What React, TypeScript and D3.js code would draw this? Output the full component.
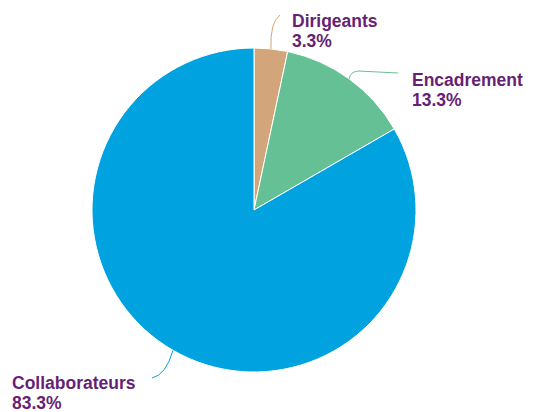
import React from "react";
import * as d3 from "d3";

const categories = ["Dirigeants", "Encadrement", "Collaborateurs"];
const values = [1, 4, 25];
const percentLabels = ["3.3%", "13.3%", "83.3%"];
const colors = ["#d3a57b", "#66c096", "#00a3df"];

const W = 534, H = 412;
const cx = 254, cy = 210, R = 162;

// label layout: anchor offsets for text and connector end
const labelLayout = [
  { tx: 292, ty: 27, end: [280, 15], ctrl: [270, 22], tail: null },
  { tx: 412, ty: 86, end: [358, 71], ctrl: [350, 72], tail: [398, 73] },
  { tx: 12, ty: 389, end: [152, 378], ctrl: [166, 375], tail: null },
];

export default function App() {
  const pie = d3.pie<number>().sort(null).value((d) => d);
  const arcs = pie(values);
  const arc = d3.arc<d3.PieArcDatum<number>>().innerRadius(0).outerRadius(R);
  const font = "'Liberation Sans', Arial, sans-serif";
  return (
    <svg width={W} height={H} style={{ position: "absolute", left: 0, top: 0 }}>
      <g transform={`translate(${cx},${cy})`}>
        {arcs.map((a, i) => (
          <path key={i} d={arc(a) || ""} fill={colors[i]} stroke="#fff" strokeWidth={1} />
        ))}
      </g>
      {arcs.map((a, i) => {
        const mid = (a.startAngle + a.endAngle) / 2;
        const sx = cx + R * Math.sin(mid);
        const sy = cy - R * Math.cos(mid);
        const L = labelLayout[i];
        let d = `M${sx},${sy} Q${L.ctrl[0]},${L.ctrl[1]} ${L.end[0]},${L.end[1]}`;
        if (L.tail) d += ` L${L.tail[0]},${L.tail[1]}`;
        return <path key={"c" + i} d={d} fill="none" stroke={colors[i]} strokeWidth={1} />;
      })}
      {categories.map((c, i) => {
        const L = labelLayout[i];
        return (
          <text key={"t" + i} x={L.tx} y={L.ty} fill="#671f76" fontFamily={font} fontWeight="bold" fontSize={17.5}>
            <tspan x={L.tx}>{c}</tspan>
            <tspan x={L.tx} dy={20}>{percentLabels[i]}</tspan>
          </text>
        );
      })}
    </svg>
  );
}
